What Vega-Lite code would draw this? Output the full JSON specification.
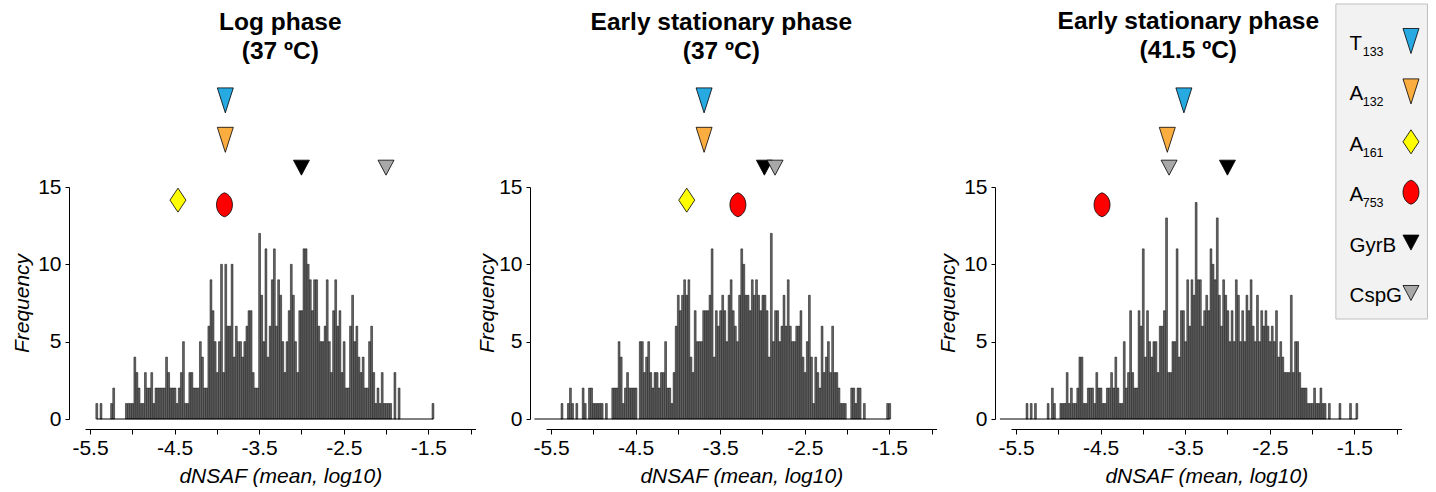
{
"$schema": "https://vega.github.io/schema/vega-lite/v6.json",
"background": "white",
"padding": {"left": 11, "top": 3, "right": 2, "bottom": 2},
"autosize": {"type": "pad"},
"spacing": 0,
"resolve": {"scale": {"x": "independent", "y": "independent"}},
"config": {
 "view": {"stroke": null},
 "font": "Liberation Sans",
 "axis": {"grid": false, "domainColor": "#000", "tickColor": "#000", "labelColor": "#000", "titleColor": "#000", "labelFont": "Liberation Sans", "titleFont": "Liberation Sans", "labelFontSize": 21, "titleFontSize": 21, "titleFontWeight": "normal", "titleFontStyle": "italic", "domainWidth": 1, "tickWidth": 1},
 "axisX": {"offset": 10, "tickSize": 5, "labelPadding": 3, "titlePadding": 7, "labelFlush": false, "labelOverlap": false},
 "axisY": {"offset": 16, "tickSize": 4, "labelPadding": 4, "titlePadding": 5},
 "title": {"font": "Liberation Sans", "fontSize": 24.5, "fontWeight": "bold", "color": "#000", "frame": "group", "offset": 22, "lineHeight": 28.5, "anchor": "middle", "baseline": "bottom"}
},
"datasets": {
 "h1": [
  {"x":-5.42,"n":1},{"x":-5.37,"n":1},{"x":-5.245,"n":1},{"x":-5.22,"n":2},
  {"x":-5.07,"n":1},{"x":-5.045,"n":1},{"x":-5.02,"n":1},{"x":-4.995,"n":1},{"x":-4.97,"n":4},{"x":-4.945,"n":3},{"x":-4.92,"n":2},{"x":-4.895,"n":1},{"x":-4.87,"n":1},{"x":-4.845,"n":3},{"x":-4.82,"n":2},{"x":-4.795,"n":2},{"x":-4.77,"n":3},{"x":-4.745,"n":1},{"x":-4.72,"n":2},{"x":-4.695,"n":2},{"x":-4.67,"n":2},{"x":-4.645,"n":2},{"x":-4.62,"n":2},{"x":-4.595,"n":4},{"x":-4.57,"n":3},{"x":-4.545,"n":2},{"x":-4.52,"n":2},{"x":-4.495,"n":2},{"x":-4.47,"n":1},{"x":-4.445,"n":2},{"x":-4.42,"n":3},{"x":-4.395,"n":5},{"x":-4.37,"n":1},{"x":-4.345,"n":1},{"x":-4.32,"n":3},{"x":-4.295,"n":3},{"x":-4.27,"n":2},{"x":-4.245,"n":2},{"x":-4.22,"n":2},{"x":-4.195,"n":5},{"x":-4.17,"n":4},{"x":-4.145,"n":2},{"x":-4.12,"n":2},{"x":-4.095,"n":6},{"x":-4.07,"n":9},{"x":-4.045,"n":7},{"x":-4.02,"n":5},{"x":-3.995,"n":3},{"x":-3.97,"n":5},{"x":-3.945,"n":10},{"x":-3.92,"n":3},{"x":-3.895,"n":10},{"x":-3.87,"n":6},{"x":-3.845,"n":6},{"x":-3.82,"n":10},{"x":-3.795,"n":4},{"x":-3.77,"n":6},{"x":-3.745,"n":5},{"x":-3.72,"n":5},{"x":-3.695,"n":4},{"x":-3.67,"n":5},{"x":-3.645,"n":6},{"x":-3.62,"n":7},{"x":-3.595,"n":7},{"x":-3.57,"n":3},{"x":-3.545,"n":2},{"x":-3.52,"n":2},
  {"x":-3.495,"n":12},{"x":-3.47,"n":8},{"x":-3.445,"n":5},{"x":-3.42,"n":11},{"x":-3.395,"n":4},{"x":-3.37,"n":6},{"x":-3.345,"n":9},{"x":-3.32,"n":11},{"x":-3.295,"n":6},{"x":-3.27,"n":9},{"x":-3.245,"n":8},{"x":-3.22,"n":5},{"x":-3.195,"n":3},{"x":-3.17,"n":5},{"x":-3.145,"n":7},{"x":-3.12,"n":10},{"x":-3.095,"n":8},{"x":-3.07,"n":5},{"x":-3.045,"n":3},{"x":-3.02,"n":7},{"x":-2.995,"n":7},{"x":-2.97,"n":11},{"x":-2.945,"n":11},{"x":-2.92,"n":10},{"x":-2.895,"n":9},{"x":-2.87,"n":7},{"x":-2.845,"n":9},{"x":-2.82,"n":9},{"x":-2.795,"n":6},{"x":-2.77,"n":5},{"x":-2.745,"n":5},{"x":-2.72,"n":6},{"x":-2.695,"n":9},{"x":-2.67,"n":5},{"x":-2.645,"n":3},{"x":-2.62,"n":7},{"x":-2.595,"n":9},{"x":-2.57,"n":6},{"x":-2.545,"n":7},{"x":-2.52,"n":3},{"x":-2.495,"n":5},{"x":-2.47,"n":2},{"x":-2.445,"n":2},{"x":-2.42,"n":6},{"x":-2.395,"n":8},{"x":-2.37,"n":5},{"x":-2.345,"n":6},{"x":-2.32,"n":4},{"x":-2.295,"n":3},{"x":-2.27,"n":4},{"x":-2.245,"n":2},{"x":-2.22,"n":2},{"x":-2.195,"n":5},{"x":-2.17,"n":6},{"x":-2.145,"n":3},{"x":-2.12,"n":1},{"x":-2.095,"n":2},{"x":-2.07,"n":1},{"x":-2.045,"n":3},{"x":-2.02,"n":1},{"x":-1.995,"n":1},{"x":-1.97,"n":1},{"x":-1.945,"n":1},{"x":-1.895,"n":3},{"x":-1.845,"n":2},{"x":-1.445,"n":1}
 ],
 "h2": [
  {"x":-5.37,"n":1},{"x":-5.295,"n":1},{"x":-5.27,"n":2},{"x":-5.245,"n":1},{"x":-5.195,"n":1},{"x":-5.12,"n":2},{"x":-5.095,"n":1},{"x":-5.045,"n":2},{"x":-5.02,"n":2},{"x":-4.995,"n":1},{"x":-4.97,"n":1},{"x":-4.945,"n":1},{"x":-4.92,"n":1},{"x":-4.895,"n":1},{"x":-4.845,"n":1},{"x":-4.77,"n":2},{"x":-4.745,"n":2},{"x":-4.72,"n":2},{"x":-4.695,"n":5},{"x":-4.67,"n":4},{"x":-4.645,"n":1},{"x":-4.62,"n":2},{"x":-4.595,"n":3},{"x":-4.57,"n":2},{"x":-4.545,"n":2},{"x":-4.52,"n":2},{"x":-4.495,"n":2},{"x":-4.445,"n":5},{"x":-4.42,"n":5},{"x":-4.395,"n":3},{"x":-4.37,"n":4},{"x":-4.345,"n":5},{"x":-4.32,"n":3},{"x":-4.295,"n":2},{"x":-4.27,"n":3},{"x":-4.245,"n":3},{"x":-4.22,"n":2},{"x":-4.195,"n":3},{"x":-4.17,"n":3},{"x":-4.145,"n":5},{"x":-4.12,"n":2},{"x":-4.095,"n":2},{"x":-4.07,"n":1},{"x":-4.045,"n":3},{"x":-4.02,"n":6},{"x":-3.995,"n":8},{"x":-3.97,"n":7},{"x":-3.945,"n":8},{"x":-3.92,"n":9},{"x":-3.895,"n":8},{"x":-3.87,"n":9},{"x":-3.845,"n":4},{"x":-3.82,"n":3},{"x":-3.795,"n":7},{"x":-3.77,"n":5},{"x":-3.745,"n":5},{"x":-3.72,"n":5},{"x":-3.695,"n":7},{"x":-3.67,"n":7},{"x":-3.645,"n":7},{"x":-3.62,"n":8},{"x":-3.595,"n":11},
  {"x":-3.57,"n":4},{"x":-3.545,"n":7},{"x":-3.52,"n":6},{"x":-3.495,"n":7},{"x":-3.47,"n":8},{"x":-3.445,"n":7},{"x":-3.42,"n":5},{"x":-3.395,"n":8},{"x":-3.37,"n":9},{"x":-3.345,"n":7},{"x":-3.32,"n":6},{"x":-3.295,"n":5},{"x":-3.27,"n":8},{"x":-3.245,"n":11},{"x":-3.22,"n":10},{"x":-3.195,"n":8},{"x":-3.17,"n":8},{"x":-3.145,"n":7},{"x":-3.12,"n":9},{"x":-3.095,"n":8},{"x":-3.07,"n":9},{"x":-3.045,"n":8},{"x":-3.02,"n":7},{"x":-2.995,"n":8},{"x":-2.97,"n":8},{"x":-2.945,"n":7},{"x":-2.92,"n":4},{"x":-2.895,"n":12},{"x":-2.87,"n":5},{"x":-2.845,"n":7},{"x":-2.82,"n":7},{"x":-2.795,"n":5},{"x":-2.77,"n":6},{"x":-2.745,"n":8},{"x":-2.72,"n":6},{"x":-2.695,"n":9},{"x":-2.67,"n":6},{"x":-2.645,"n":5},{"x":-2.62,"n":5},{"x":-2.595,"n":6},{"x":-2.57,"n":6},{"x":-2.545,"n":7},{"x":-2.52,"n":4},{"x":-2.495,"n":3},{"x":-2.47,"n":5},{"x":-2.445,"n":8},{"x":-2.42,"n":4},{"x":-2.395,"n":1},{"x":-2.37,"n":4},{"x":-2.345,"n":3},{"x":-2.32,"n":2},{"x":-2.295,"n":6},{"x":-2.27,"n":3},{"x":-2.245,"n":4},{"x":-2.22,"n":5},{"x":-2.195,"n":3},{"x":-2.17,"n":6},{"x":-2.145,"n":3},{"x":-2.12,"n":3},{"x":-2.095,"n":2},
  {"x":-2.07,"n":1},{"x":-2.045,"n":1},{"x":-2.02,"n":1},{"x":-1.945,"n":2},{"x":-1.92,"n":2},{"x":-1.895,"n":1},{"x":-1.87,"n":2},{"x":-1.845,"n":2},{"x":-1.795,"n":1},{"x":-1.52,"n":1},{"x":-1.495,"n":1}
 ],
 "h3": [
  {"x":-5.37,"n":1},{"x":-5.32,"n":1},{"x":-5.27,"n":1},
  {"x":-5.12,"n":1},{"x":-5.07,"n":2},{"x":-5.045,"n":1},{"x":-4.97,"n":1},{"x":-4.945,"n":1},{"x":-4.92,"n":1},{"x":-4.895,"n":3},{"x":-4.87,"n":1},{"x":-4.845,"n":2},{"x":-4.82,"n":1},{"x":-4.795,"n":1},{"x":-4.77,"n":2},{"x":-4.745,"n":4},{"x":-4.72,"n":4},{"x":-4.695,"n":1},{"x":-4.67,"n":1},{"x":-4.645,"n":2},{"x":-4.62,"n":2},{"x":-4.595,"n":2},{"x":-4.57,"n":1},{"x":-4.545,"n":3},{"x":-4.52,"n":2},{"x":-4.495,"n":2},{"x":-4.47,"n":1},{"x":-4.445,"n":1},{"x":-4.42,"n":2},{"x":-4.395,"n":2},{"x":-4.37,"n":3},{"x":-4.345,"n":2},{"x":-4.32,"n":4},{"x":-4.295,"n":2},{"x":-4.27,"n":1},{"x":-4.245,"n":1},{"x":-4.22,"n":5},{"x":-4.195,"n":2},{"x":-4.17,"n":3},{"x":-4.145,"n":7},{"x":-4.12,"n":3},{"x":-4.095,"n":2},{"x":-4.07,"n":2},{"x":-4.045,"n":7},{"x":-4.02,"n":6},{"x":-3.995,"n":11},{"x":-3.97,"n":4},{"x":-3.945,"n":7},{"x":-3.92,"n":5},{"x":-3.895,"n":4},{"x":-3.87,"n":5},{"x":-3.845,"n":5},{"x":-3.82,"n":3},{"x":-3.795,"n":6},{"x":-3.77,"n":6},{"x":-3.745,"n":7},{"x":-3.72,"n":13},{"x":-3.695,"n":3},{"x":-3.67,"n":3},{"x":-3.645,"n":5},{"x":-3.62,"n":5},{"x":-3.595,"n":11},{"x":-3.57,"n":4},{"x":-3.545,"n":7},
  {"x":-3.52,"n":7},{"x":-3.495,"n":5},{"x":-3.47,"n":9},{"x":-3.445,"n":6},{"x":-3.42,"n":9},{"x":-3.395,"n":8},{"x":-3.37,"n":14},
  {"x":-3.345,"n":9},{"x":-3.32,"n":9},{"x":-3.295,"n":6},{"x":-3.27,"n":7},{"x":-3.245,"n":8},{"x":-3.22,"n":7},{"x":-3.195,"n":11},{"x":-3.17,"n":10},{"x":-3.145,"n":9},{"x":-3.12,"n":13},{"x":-3.095,"n":8},{"x":-3.07,"n":6},{"x":-3.045,"n":9},{"x":-3.02,"n":8},{"x":-2.995,"n":7},{"x":-2.97,"n":5},{"x":-2.945,"n":7},{"x":-2.92,"n":5},{"x":-2.895,"n":9},{"x":-2.87,"n":8},{"x":-2.845,"n":5},{"x":-2.82,"n":7},{"x":-2.795,"n":5},{"x":-2.77,"n":8},{"x":-2.745,"n":7},{"x":-2.72,"n":9},{"x":-2.695,"n":6},{"x":-2.67,"n":5},{"x":-2.645,"n":8},{"x":-2.62,"n":5},{"x":-2.595,"n":7},{"x":-2.57,"n":6},{"x":-2.545,"n":7},{"x":-2.52,"n":6},{"x":-2.495,"n":5},{"x":-2.47,"n":6},{"x":-2.445,"n":5},{"x":-2.42,"n":7},{"x":-2.395,"n":4},{"x":-2.37,"n":5},{"x":-2.345,"n":4},{"x":-2.32,"n":3},{"x":-2.295,"n":3},{"x":-2.27,"n":3},{"x":-2.245,"n":8},{"x":-2.22,"n":3},{"x":-2.195,"n":5},{"x":-2.17,"n":5},{"x":-2.145,"n":3},{"x":-2.12,"n":2},{"x":-2.095,"n":2},{"x":-2.07,"n":2},{"x":-2.045,"n":1},{"x":-2.02,"n":1},{"x":-1.995,"n":1},{"x":-1.97,"n":2},{"x":-1.945,"n":1},{"x":-1.92,"n":1},{"x":-1.895,"n":2},{"x":-1.87,"n":1},{"x":-1.845,"n":1},
  {"x":-1.795,"n":1},{"x":-1.67,"n":1},{"x":-1.545,"n":1},{"x":-1.47,"n":1}
 ],
 "b1": [{"x":-5.42,"x2":-1.445}],
 "b2": [{"x":-5.696,"x2":-1.495}],
 "b3": [{"x":-5.69,"x2":-1.47}],
 "m1": [
  {"m":"T133","x":-3.90,"y":20.6},{"m":"A132","x":-3.90,"y":18.05},{"m":"A161","x":-4.46,"y":14.15},{"m":"A753","x":-3.91,"y":13.85},{"m":"GyrB","x":-3.0,"y":16.25},{"m":"CspG","x":-2.0,"y":16.25}
 ],
 "m2": [
  {"m":"T133","x":-3.69,"y":20.6},{"m":"A132","x":-3.69,"y":18.05},{"m":"A161","x":-3.895,"y":14.15},{"m":"A753","x":-3.29,"y":13.85},{"m":"GyrB","x":-2.977,"y":16.25},{"m":"CspG","x":-2.851,"y":16.25}
 ],
 "m3": [
  {"m":"T133","x":-3.515,"y":20.6},{"m":"A132","x":-3.711,"y":18.05},{"m":"A753","x":-4.483,"y":13.85},{"m":"GyrB","x":-3.0,"y":16.25},{"m":"CspG","x":-3.69,"y":16.25}
 ],
 "lg": [
  {"m":"T133","lab":"T","sub":"133","r":1},{"m":"A132","lab":"A","sub":"132","r":2},{"m":"A161","lab":"A","sub":"161","r":3},{"m":"A753","lab":"A","sub":"753","r":4},{"m":"GyrB","lab":"GyrB","sub":"","r":5},{"m":"CspG","lab":"CspG","sub":"","r":6}
 ]
},
"hconcat": [
 {
  "width": 390.6, "height": 232,
  "title": {"text": ["Log phase", "(37 ºC)"]},
  "layer": [
   {"data": {"name": "h1"}, "mark": {"type": "bar", "size": 1.8, "fill": "#6b6b6b", "stroke": "#000", "strokeWidth": 0.5},
    "encoding": {
     "x": {"field": "x", "type": "quantitative", "scale": {"domain": [-5.5, -1.0], "nice": false, "zero": false}, "axis": {"values": [-5.5,-5,-4.5,-4,-3.5,-3,-2.5,-2,-1.5,-1], "labelExpr": "datum.value % 1 == 0 ? '' : replace(datum.label, '\u2212', '-')", "title": "dNSAF (mean, log10)"}},
     "y": {"field": "n", "type": "quantitative", "scale": {"domain": [0, 15], "nice": false}, "axis": {"values": [0, 5, 10, 15], "title": "Frequency"}}
    }},
   {"data": {"name": "b1"}, "mark": {"type": "rule", "color": "#000", "strokeWidth": 1},
    "encoding": {"x": {"field": "x", "type": "quantitative", "title": "dNSAF (mean, log10)"}, "x2": {"field": "x2"}, "y": {"datum": 0, "type": "quantitative", "title": "Frequency"}}},
   {"data": {"name": "m1"}, "mark": {"type": "point", "filled": true, "size": 625, "stroke": "#000", "strokeWidth": 0.8, "opacity": 1},
    "encoding": {
     "x": {"field": "x", "type": "quantitative", "title": "dNSAF (mean, log10)"},
     "y": {"field": "y", "type": "quantitative", "title": "Frequency"},
     "shape": {"field": "m", "type": "nominal", "scale": {"domain": ["T133","A132","A161","A753","GyrB","CspG"], "range": ["M-0.64,-1L0.64,-1L0,1Z","M-0.64,-1L0.64,-1L0,1Z","M0,-0.96L0.64,0L0,0.96L-0.64,0Z","M0,-0.96C0.85,-0.7 0.85,0.7 0,0.96C-0.85,0.7 -0.85,-0.7 0,-0.96Z","M-0.64,-0.6L0.64,-0.6L0,0.6Z","M-0.64,-0.6L0.64,-0.6L0,0.6Z"]}, "legend": null},
     "fill": {"field": "m", "type": "nominal", "scale": {"domain": ["T133","A132","A161","A753","GyrB","CspG"], "range": ["#27a9e1","#fbad3f","#ffff00","#ff0000","#000000","#a8a8a8"]}, "legend": null}
    }}
  ]
 },
 {
  "width": 390.6, "height": 232,
  "title": {"text": ["Early stationary phase", "(37 ºC)"], "dx": -20},
  "layer": [
   {"data": {"name": "h2"}, "mark": {"type": "bar", "size": 1.8, "fill": "#6b6b6b", "stroke": "#000", "strokeWidth": 0.5},
    "encoding": {
     "x": {"field": "x", "type": "quantitative", "scale": {"domain": [-5.5, -1.0], "nice": false, "zero": false}, "axis": {"values": [-5.5,-5,-4.5,-4,-3.5,-3,-2.5,-2,-1.5,-1], "labelExpr": "datum.value % 1 == 0 ? '' : replace(datum.label, '\u2212', '-')", "title": "dNSAF (mean, log10)"}},
     "y": {"field": "n", "type": "quantitative", "scale": {"domain": [0, 15], "nice": false}, "axis": {"values": [0, 5, 10, 15], "title": "Frequency", "titlePadding": 1}}
    }},
   {"data": {"name": "b2"}, "mark": {"type": "rule", "color": "#000", "strokeWidth": 1},
    "encoding": {"x": {"field": "x", "type": "quantitative", "title": "dNSAF (mean, log10)"}, "x2": {"field": "x2"}, "y": {"datum": 0, "type": "quantitative", "title": "Frequency"}}},
   {"data": {"name": "m2"}, "mark": {"type": "point", "filled": true, "size": 625, "stroke": "#000", "strokeWidth": 0.8, "opacity": 1},
    "encoding": {
     "x": {"field": "x", "type": "quantitative", "title": "dNSAF (mean, log10)"},
     "y": {"field": "y", "type": "quantitative", "title": "Frequency"},
     "shape": {"field": "m", "type": "nominal", "scale": {"domain": ["T133","A132","A161","A753","GyrB","CspG"], "range": ["M-0.64,-1L0.64,-1L0,1Z","M-0.64,-1L0.64,-1L0,1Z","M0,-0.96L0.64,0L0,0.96L-0.64,0Z","M0,-0.96C0.85,-0.7 0.85,0.7 0,0.96C-0.85,0.7 -0.85,-0.7 0,-0.96Z","M-0.64,-0.6L0.64,-0.6L0,0.6Z","M-0.64,-0.6L0.64,-0.6L0,0.6Z"]}, "legend": null},
     "fill": {"field": "m", "type": "nominal", "scale": {"domain": ["T133","A132","A161","A753","GyrB","CspG"], "range": ["#27a9e1","#fbad3f","#ffff00","#ff0000","#000000","#a8a8a8"]}, "legend": null}
    }}
  ]
 },
 {
  "width": 390.6, "height": 232,
  "title": {"text": ["Early stationary phase", "(41.5 ºC)"], "offset": -60, "dx": -18},
  "resolve": {"scale": {"y": "independent"}},
  "layer": [
   {"layer": [
    {"data": {"name": "h3"}, "mark": {"type": "bar", "size": 1.8, "fill": "#6b6b6b", "stroke": "#000", "strokeWidth": 0.5},
     "encoding": {
      "x": {"field": "x", "type": "quantitative", "scale": {"domain": [-5.5, -1.0], "nice": false, "zero": false}, "axis": {"values": [-5.5,-5,-4.5,-4,-3.5,-3,-2.5,-2,-1.5,-1], "labelExpr": "datum.value % 1 == 0 ? '' : replace(datum.label, '\u2212', '-')", "title": "dNSAF (mean, log10)"}},
      "y": {"field": "n", "type": "quantitative", "scale": {"domain": [0, 15], "nice": false}, "axis": {"values": [0, 5, 10, 15], "title": "Frequency"}}
     }},
    {"data": {"name": "b3"}, "mark": {"type": "rule", "color": "#000", "strokeWidth": 1},
     "encoding": {"x": {"field": "x", "type": "quantitative", "title": "dNSAF (mean, log10)"}, "x2": {"field": "x2"}, "y": {"datum": 0, "type": "quantitative", "title": "Frequency"}}},
    {"data": {"name": "m3"}, "mark": {"type": "point", "filled": true, "size": 625, "stroke": "#000", "strokeWidth": 0.8, "opacity": 1},
     "encoding": {
      "x": {"field": "x", "type": "quantitative", "title": "dNSAF (mean, log10)"},
      "y": {"field": "y", "type": "quantitative", "title": "Frequency"},
      "shape": {"field": "m", "type": "nominal", "scale": {"domain": ["T133","A132","A161","A753","GyrB","CspG"], "range": ["M-0.64,-1L0.64,-1L0,1Z","M-0.64,-1L0.64,-1L0,1Z","M0,-0.96L0.64,0L0,0.96L-0.64,0Z","M0,-0.96C0.85,-0.7 0.85,0.7 0,0.96C-0.85,0.7 -0.85,-0.7 0,-0.96Z","M-0.64,-0.6L0.64,-0.6L0,0.6Z","M-0.64,-0.6L0.64,-0.6L0,0.6Z"]}, "legend": null},
      "fill": {"field": "m", "type": "nominal", "scale": {"domain": ["T133","A132","A161","A753","GyrB","CspG"], "range": ["#27a9e1","#fbad3f","#ffff00","#ff0000","#000000","#a8a8a8"]}, "legend": null}
     }}
   ]},
   {"layer": [
    {"data": {"values": [{}]}, "mark": {"type": "rect", "fill": "#f2f2f2", "stroke": "#bfbfbf", "strokeWidth": 1},
     "encoding": {"x": {"datum": -1.718, "type": "quantitative", "title": "dNSAF (mean, log10)"}, "x2": {"datum": -0.635}, "y": {"datum": 0.266, "type": "quantitative", "scale": {"domain": [3.897, 8.5], "reverse": true, "nice": false, "zero": false}, "axis": null}, "y2": {"datum": 6.516}}},
    {"data": {"name": "lg"}, "mark": {"type": "point", "filled": true, "size": 625, "stroke": "#000", "strokeWidth": 0.8, "opacity": 1},
     "encoding": {
      "x": {"datum": -0.83, "type": "quantitative", "title": "dNSAF (mean, log10)"},
      "y": {"field": "r", "type": "quantitative", "scale": {"domain": [3.897, 8.5], "reverse": true, "nice": false, "zero": false}, "axis": null},
      "shape": {"field": "m", "type": "nominal", "scale": {"domain": ["T133","A132","A161","A753","GyrB","CspG"], "range": ["M-0.64,-1L0.64,-1L0,1Z","M-0.64,-1L0.64,-1L0,1Z","M0,-0.96L0.64,0L0,0.96L-0.64,0Z","M0,-0.96C0.85,-0.7 0.85,0.7 0,0.96C-0.85,0.7 -0.85,-0.7 0,-0.96Z","M-0.64,-0.6L0.64,-0.6L0,0.6Z","M-0.64,-0.6L0.64,-0.6L0,0.6Z"]}, "legend": null},
      "fill": {"field": "m", "type": "nominal", "scale": {"domain": ["T133","A132","A161","A753","GyrB","CspG"], "range": ["#27a9e1","#fbad3f","#ffff00","#ff0000","#000000","#a8a8a8"]}, "legend": null}
     }},
    {"data": {"name": "lg"}, "mark": {"type": "text", "align": "left", "baseline": "middle", "dy": 3, "fontSize": 20.5, "font": "Liberation Sans", "color": "#000"},
     "encoding": {
      "x": {"datum": -1.556, "type": "quantitative", "title": "dNSAF (mean, log10)"},
      "y": {"field": "r", "type": "quantitative", "scale": {"domain": [3.897, 8.5], "reverse": true, "nice": false, "zero": false}, "axis": null},
      "text": {"field": "lab"}
     }},
    {"data": {"name": "lg"}, "mark": {"type": "text", "align": "left", "baseline": "middle", "dy": 11, "fontSize": 12.5, "font": "Liberation Sans", "color": "#000"},
     "encoding": {
      "x": {"datum": -1.401, "type": "quantitative", "title": "dNSAF (mean, log10)"},
      "y": {"field": "r", "type": "quantitative", "scale": {"domain": [3.897, 8.5], "reverse": true, "nice": false, "zero": false}, "axis": null},
      "text": {"field": "sub"}
     }}
   ]}
  ]
 }
]
}
